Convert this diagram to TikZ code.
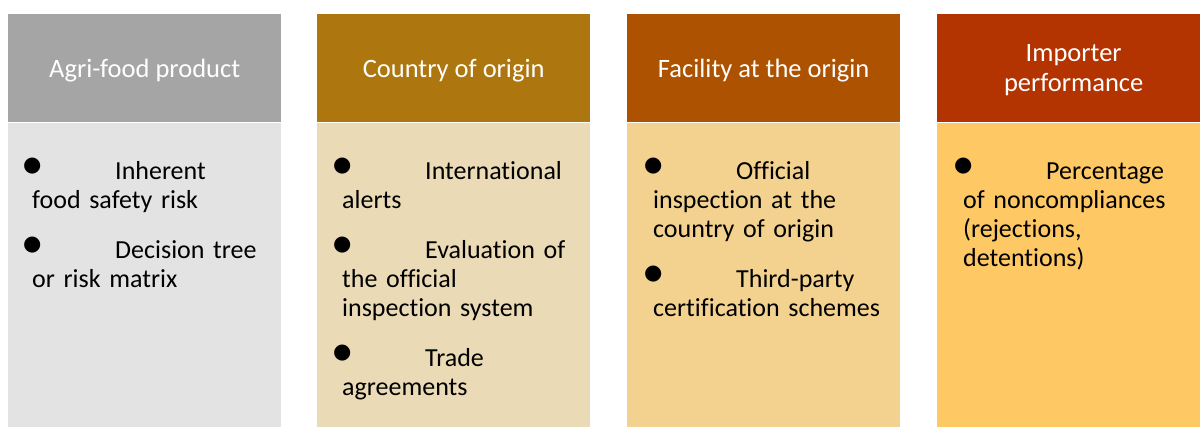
\documentclass[tikz,border=0pt]{standalone}
\usepackage{fontspec}
\setmainfont{Carlito}[Ligatures=NoCommon]
\newfontfamily\dotfont{DejaVu Sans}
\usetikzlibrary{positioning}
\definecolor{headA}{HTML}{A5A5A5}
\definecolor{bodyA}{HTML}{E3E3E3}
\definecolor{headB}{HTML}{AD760E}
\definecolor{bodyB}{HTML}{EBDAB6}
\definecolor{headC}{HTML}{AD5200}
\definecolor{bodyC}{HTML}{F3D28F}
\definecolor{headD}{HTML}{B33400}
\definecolor{bodyD}{HTML}{FEC864}
\tikzstyle{head}=[rectangle,anchor=north west,minimum width=273pt,minimum height=108pt,inner sep=0pt,text depth=0pt,text=white,align=center,font=\fontsize{26.5}{30}\selectfont]
\tikzstyle{body}=[rectangle,minimum width=273pt,minimum height=305pt,inner sep=0pt]
\tikzstyle{items}=[anchor=base west,inner sep=0pt,text width=262pt,align=left,font=\fontsize{26}{29}\selectfont]
\newcommand{\bul}{\hspace*{-9pt}\makebox[92pt][l]{\raisebox{8pt}{\dotfont\fontsize{21}{21}\selectfont ●}}}

\begin{document}
\begin{tikzpicture}[x=1pt,y=-1pt]
    \useasboundingbox (0,0) rectangle (1200,427);
    \clip (0,0) rectangle (1200,427);
%   column heads
    \node[head,fill=headA] (hA) at (8,14)   {Agri-food product};
    \node[head,fill=headB] (hB) at (317,14) {Country of origin};
    \node[head,fill=headC] (hC) at (627,14) {Facility at the origin};
    \node[head,fill=headD] (hD) at (937,14) {Importer\\performance};
%   column bodies
    \node[body,fill=bodyA,below=0pt of hA] (bA) {};
    \node[body,fill=bodyB,below=0pt of hB] (bB) {};
    \node[body,fill=bodyC,below=0pt of hC] (bC) {};
    \node[body,fill=bodyD,below=0pt of hD] (bD) {};
%   criteria
    \node[items] (iA) at (32,180) {\bul Inherent\\food safety risk\\[21pt]
        \bul Decision tree\\or risk matrix};
    \node[items] (iB) at (342,180) {\bul International\\alerts\\[21pt]
        \bul Evaluation of\\the official\\inspection system\\[21pt]
        \bul Trade\\agreements};
    \node[items] (iC) at (653,180) {\bul Official\\inspection at the\\country of origin\\[21pt]
        \bul Third-party\\certification schemes};
    \node[items] (iD) at (963,180) {\bul Percentage\\of noncompliances\\(rejections,\\detentions)};
\end{tikzpicture}
\end{document}
